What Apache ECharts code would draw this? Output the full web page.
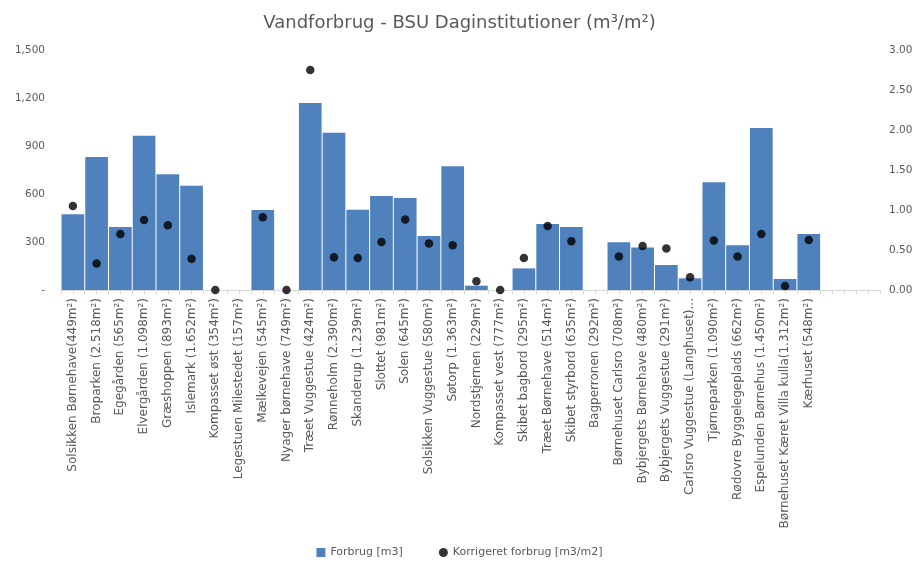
<!DOCTYPE html>
<html>
<head>
    <meta charset="utf-8">
    <title>Vandforbrug</title>
    <script src="https://cdn.jsdelivr.net/npm/echarts@6/dist/echarts.min.js"></script>
    <style>
        body { margin: 0; background: #fff; }
    </style>
</head>
<body>
<div id="main" style="width: 919px;height:563px;"></div>
<script type="text/javascript">
    // institutioner (m² i parentes)
    var institutioner = [
        'Solsikken Børnehave(449m²)', 'Broparken (2.518m²)', 'Egegården (565m²)',
        'Elvergården (1.098m²)', 'Græshoppen (893m²)', 'Islemark (1.652m²)',
        'Kompasset øst (354m²)', 'Legestuen Milestedet (157m²)', 'Mælkevejen (545m²)',
        'Nyager børnehave (749m²)', 'Træet Vuggestue (424m²)', 'Rønneholm (2.390m²)',
        'Skanderup (1.239m²)', 'Slottet (981m²)', 'Solen (645m²)',
        'Solsikken Vuggestue (580m²)', 'Søtorp (1.363m²)', 'Nordstjernen (229m²)',
        'Kompasset vest (777m²)', 'Skibet bagbord (295m²)', 'Træet Børnehave (514m²)',
        'Skibet styrbord (635m²)', 'Bagperronen (292m²)', 'Børnehuset Carlsro (708m²)',
        'Bybjergets Børnehave (480m²)', 'Bybjergets Vuggestue (291m²)', 'Carlsro Vuggestue (Langhuset)...',
        'Tjørneparken (1.090m²)', 'Rødovre Byggelegeplads (662m²)', 'Espelunden Børnehus (1.450m²)',
        'Børnehuset Kæret Villa kulla(1.312m²)', 'Kærhuset (548m²)'
    ];
    // Forbrug [m3]
    var forbrug = [473, 831, 394, 964, 723, 652, 0, 0, 500, 0,
        1169, 983, 502, 587, 575, 337, 773, 27, 0, 135,
        412, 394, 0, 298, 265, 156, 73, 673, 279, 1013,
        69, 350];
    // Korrigeret forbrug [m3/m2]
    var korrigeret = [1.05, 0.33, 0.70, 0.875, 0.81, 0.39, 0, null, 0.91, 0,
        2.75, 0.41, 0.40, 0.60, 0.88, 0.58, 0.56, 0.11, 0, 0.40,
        0.80, 0.61, null, 0.42, 0.55, 0.52, 0.16, 0.62, 0.42, 0.70,
        0.05, 0.625];

    var tekst = '#595959';
    var font = 'DejaVu Sans';

    var myChart = echarts.init(document.getElementById('main'));
    var option = {
        animation: false,
        textStyle: { fontFamily: font, color: tekst },
        title: {
            text: 'Vandforbrug - BSU Daginstitutioner (m³/m²)',
            left: 'center',
            top: 9,
            textStyle: { fontFamily: font, fontSize: 18, fontWeight: 'normal', color: tekst }
        },
        legend: {
            bottom: 0,
            left: 'center',
            itemWidth: 9,
            itemHeight: 9,
            itemGap: 36,
            textStyle: { fontFamily: font, fontSize: 11, color: tekst },
            data: [
                { name: 'Forbrug [m3]', icon: 'rect' },
                { name: 'Korrigeret forbrug [m3/m2]', icon: 'circle' }
            ]
        },
        grid: {
            left: 61,
            right: 39,
            top: 50,
            bottom: 273
        },
        xAxis: {
            type: 'value',
            min: -0.5,
            max: 34,
            interval: 0.5,
            splitLine: { show: false },
            axisLine: { show: true, lineStyle: { color: '#D9D9D9' } },
            axisTick: { show: true, length: 4, lineStyle: { color: '#D9D9D9' } },
            axisLabel: {
                rotate: 90,
                margin: 8,
                fontSize: 12,
                color: tekst,
                fontFamily: font,
                formatter: function (v) {
                    return (Number.isInteger(v) && institutioner[v]) ? institutioner[v] : '';
                }
            }
        },
        yAxis: [
            {
                type: 'value',
                min: 0,
                max: 1500,
                interval: 300,
                splitLine: { show: false },
                axisLine: { show: false },
                axisTick: { show: false },
                axisLabel: {
                    margin: 16,
                    fontSize: 10.5,
                    color: tekst,
                    fontFamily: font,
                    formatter: function (v) {
                        return v === 0 ? '-' : v.toLocaleString('en-US');
                    }
                }
            },
            {
                type: 'value',
                min: 0,
                max: 3,
                interval: 0.5,
                splitLine: { show: false },
                axisLine: { show: false },
                axisTick: { show: false },
                axisLabel: {
                    margin: 9,
                    fontSize: 10.5,
                    color: tekst,
                    fontFamily: font,
                    formatter: function (v) { return v.toFixed(2); }
                }
            }
        ],
        series: [
            {
                name: 'Forbrug [m3]',
                type: 'bar',
                barWidth: 22.7,
                itemStyle: { color: '#4F81BD' },
                data: forbrug.map(function (v, i) { return [i, v]; })
            },
            {
                name: 'Korrigeret forbrug [m3/m2]',
                type: 'scatter',
                yAxisIndex: 1,
                symbol: 'circle',
                symbolSize: 8.5,
                itemStyle: { color: '#000000' },
                z: 5,
                data: korrigeret.map(function (v, i) { return [i, v]; })
                    .filter(function (d) { return d[1] !== null; })
            }
        ]
    };

    myChart.setOption(option);
</script>
</body>
</html>
